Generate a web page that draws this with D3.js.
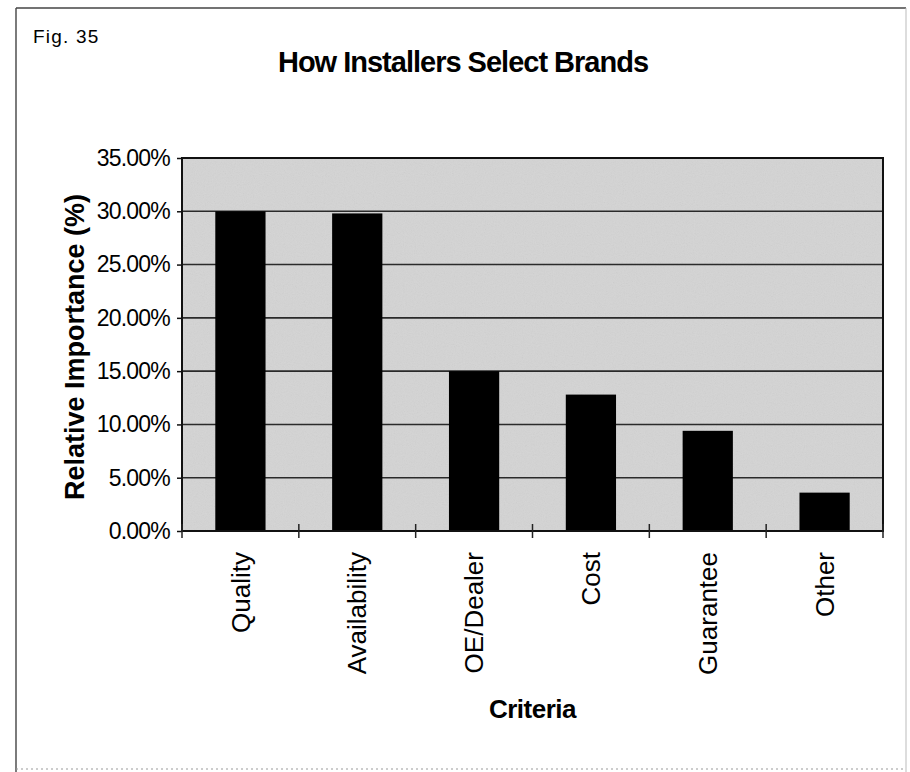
<!DOCTYPE html>
<html>
<head>
<meta charset="utf-8">
<script src="https://cdn.jsdelivr.net/npm/d3@7"></script>
<style>
	body { margin: 0; background: #fff; }
	svg { display: block; font-family: 'Liberation Sans', Arial, sans-serif; }
</style>
</head>
<body>
<main></main>
<script>
const criteria = ['Quality', 'Availability', 'OE/Dealer', 'Cost', 'Guarantee', 'Other']
const importance = [0.300, 0.298, 0.150, 0.128, 0.094, 0.036]
const yTicks = [0, 0.05, 0.10, 0.15, 0.20, 0.25, 0.30, 0.35]

const width = 910
const height = 772
const plot = { left: 182, top: 158, right: 883, bottom: 531 }

const svg = d3.select('main')
	.append('svg')
	.attr('width', width)
	.attr('height', height)

// page frame
const frame = svg.append('g').attr('stroke', '#444').attr('fill', 'none')
frame.append('line').attr('x1', 16).attr('x2', 906).attr('y1', 8).attr('y2', 8).attr('stroke-width', 1.6)
frame.append('line').attr('x1', 16).attr('x2', 16).attr('y1', 8).attr('y2', 772).attr('stroke-width', 1.4)
frame.append('line').attr('x1', 906).attr('x2', 906).attr('y1', 8).attr('y2', 772).attr('stroke', '#bbb')
frame.append('line').attr('x1', 16).attr('x2', 906).attr('y1', 769).attr('y2', 769)
	.attr('stroke', '#999').attr('stroke-dasharray', '2,3')

// titles
svg.append('text')
	.attr('x', 33).attr('y', 43)
	.style('font-size', '19px').style('letter-spacing', '1.2px')
	.text('Fig. 35')

svg.append('text')
	.attr('x', 463).attr('y', 72)
	.attr('text-anchor', 'middle')
	.style('font-size', '29px').style('font-weight', 'bold').style('letter-spacing', '-1px')
	.text('How Installers Select Brands')

// scales
const x = d3.scaleBand()
	.domain(criteria)
	.range([plot.left, plot.right])
	.paddingInner(0.57)
	.paddingOuter(0.285)

const y = d3.scaleLinear()
	.domain([0, 0.35])
	.range([plot.bottom, plot.top])

// plot background with a bit of halftone grain
const defs = svg.append('defs')
const grain = defs.append('filter').attr('id', 'grain')
	.attr('x', 0).attr('y', 0).attr('width', 1).attr('height', 1)
grain.append('feTurbulence').attr('type', 'fractalNoise').attr('baseFrequency', 0.9).attr('numOctaves', 2).attr('seed', 3)
grain.append('feColorMatrix').attr('type', 'saturate').attr('values', 0)

svg.append('rect')
	.attr('x', plot.left).attr('y', plot.top)
	.attr('width', plot.right - plot.left).attr('height', plot.bottom - plot.top)
	.attr('fill', '#d4d4d4')

svg.append('rect')
	.attr('x', plot.left).attr('y', plot.top)
	.attr('width', plot.right - plot.left).attr('height', plot.bottom - plot.top)
	.attr('filter', 'url(#grain)')
	.attr('opacity', 0.12)

// gridlines
svg.append('g')
	.selectAll('line')
	.data(yTicks.slice(1, -1))
	.enter()
	.append('line')
	.attr('x1', plot.left).attr('x2', plot.right)
	.attr('y1', d => y(d)).attr('y2', d => y(d))
	.attr('stroke', '#2a2a2a').attr('stroke-width', 1.6)

// bars
svg.append('g')
	.selectAll('rect')
	.data(criteria)
	.enter()
	.append('rect')
	.attr('x', d => x(d))
	.attr('y', (d, i) => y(importance[i]))
	.attr('width', x.bandwidth())
	.attr('height', (d, i) => y(0) - y(importance[i]))
	.attr('fill', '#000')

// plot border
svg.append('rect')
	.attr('x', plot.left).attr('y', plot.top)
	.attr('width', plot.right - plot.left).attr('height', plot.bottom - plot.top)
	.attr('fill', 'none').attr('stroke', '#111').attr('stroke-width', 2)

// y axis
const yAxis = d3.axisLeft(y)
	.tickValues(yTicks)
	.tickFormat(d3.format('.2%'))
	.tickSize(5)
	.tickPadding(7)

const yg = svg.append('g')
	.attr('transform', `translate(${plot.left},0)`)
	.call(yAxis)
yg.select('.domain').remove()
yg.selectAll('line').attr('stroke', '#111').attr('stroke-width', 1.5)
yg.selectAll('text')
	.attr('fill', '#000')
	.style('font-size', '23px').style('letter-spacing', '-0.8px')
	.style('font-family', "'Liberation Sans', Arial, sans-serif")

// x axis: labels under the bands, ticks at the band edges
const half = x.step() * x.paddingInner() / 2
const edges = criteria.map(d => x(d) - half).concat([x(criteria[criteria.length - 1]) + x.bandwidth() + half])

svg.append('g')
	.selectAll('line')
	.data(edges)
	.enter()
	.append('line')
	.attr('x1', d => d).attr('x2', d => d)
	.attr('y1', plot.bottom - 7).attr('y2', plot.bottom + 7)
	.attr('stroke', '#222').attr('stroke-width', 1.5)

svg.append('g')
	.selectAll('text')
	.data(criteria)
	.enter()
	.append('text')
	.attr('transform', d => `translate(${x(d) + x.bandwidth() / 2},552) rotate(-90)`)
	.attr('text-anchor', 'end')
	.attr('dy', '0.35em')
	.style('font-size', '26px')
	.text(d => d)

// axis titles
svg.append('text')
	.attr('transform', `translate(84,347) rotate(-90)`)
	.attr('text-anchor', 'middle')
	.style('font-size', '27px').style('font-weight', 'bold')
	.text('Relative Importance (%)')

svg.append('text')
	.attr('x', (plot.left + plot.right) / 2).attr('y', 718)
	.attr('text-anchor', 'middle')
	.style('font-size', '26px').style('font-weight', 'bold').style('letter-spacing', '-0.5px')
	.text('Criteria')
</script>
</body>
</html>
